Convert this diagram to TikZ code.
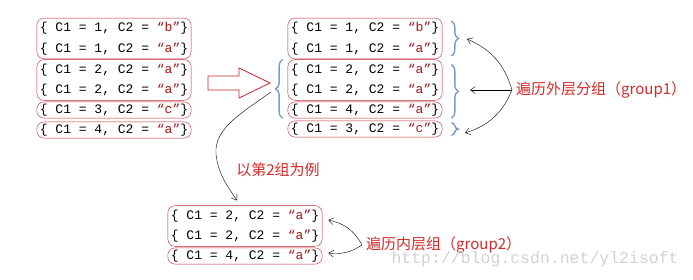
\documentclass[tikz,border=0pt]{standalone}
\usepackage{fontspec}
\setmonofont{Liberation Mono}
\newfontfamily\cjk{Noto Sans CJK SC}
\usetikzlibrary{arrows.meta,decorations.pathreplacing}
\definecolor{boxred}{RGB}{195,40,50}
\definecolor{strred}{RGB}{163,21,21}
\definecolor{lblred}{RGB}{215,40,40}
\definecolor{braceblue}{RGB}{120,155,200}
\newcommand{\strlit}[1]{\textcolor{strred}{“#1”}}
\newcommand{\rowtxt}[2]{\{ C1 = #1, C2 = \strlit{#2}\}}

\begin{document}
\begin{tikzpicture}[x=1pt,y=1pt,
    grp/.style={draw=boxred, rounded corners=7pt, align=left, inner xsep=3pt, inner ysep=2pt,
        font=\ttfamily\fontsize{13}{20.5}\selectfont},
    pair/.style={grp, inner ysep=4pt},
    brc/.style={draw=braceblue, line width=1.4pt, decorate, decoration={brace, amplitude=7pt}},
    lbl/.style={text=lblred, font=\cjk\fontsize{15}{17}\selectfont},
    >={Straight Barb[length=5pt,width=7pt]}]
    \useasboundingbox (0,0) rectangle (693,279);

    % Input rows
    \node[pair] (L1) at (114,240.5) {\rowtxt{1}{b}\\\rowtxt{1}{a}};
    \node[pair] (L2) at (114,199) {\rowtxt{2}{a}\\\rowtxt{2}{a}};
    \node[grp] (L3) at (114,169) {\rowtxt{3}{c}};
    \node[grp] (L4) at (114,149) {\rowtxt{4}{a}};

    % Hollow arrow
    \draw[boxred, line width=0.8pt, fill=white] (208,203) -- (239,203) -- (239,211) -- (270,196)
        -- (239,181) -- (239,189) -- (208,189) -- cycle;
    \coordinate (ta) at (271,187);

    % Grouped rows
    \node[pair] (R1) at (365,240.5) {\rowtxt{1}{b}\\\rowtxt{1}{a}};
    \node[pair] (R2) at (365,199) {\rowtxt{2}{a}\\\rowtxt{2}{a}};
    \node[grp] (R3) at (365,169) {\rowtxt{4}{a}};
    \node[grp] (R4) at (365,150) {\rowtxt{3}{c}};

    % Braces
    \draw[brc] ([xshift=-5pt]R3.south west) -- ([xshift=-5pt]R2.north west);
    \draw[brc] ([xshift=9pt,yshift=-3pt]R1.north east) -- ([xshift=9pt,yshift=3pt]R1.south east);
    \draw[brc] ([xshift=9pt,yshift=-5pt]R2.north east) -- ([xshift=9pt]R3.south east);
    \draw[brc] ([xshift=9pt,yshift=-2pt]R4.north east) -- ([xshift=9pt,yshift=2pt]R4.south east);
    \coordinate (t1) at (467,240);
    \coordinate (t2) at (470,189);
    \coordinate (t3) at (465,146);

    % Outer loop label
    \node[lbl, anchor=west, inner xsep=4pt] (g1) at (512,189) {遍历外层分组（group1）};
    \draw[->] (g1.west) to[bend right=25] (t1);
    \draw[->] (g1.west) -- (t2);
    \draw[->] (g1.west) to[bend left=25] (t3);

    % Example group
    \node[lbl] (ex) at (278,109) {以第2组为例};
    \node[pair] (B1) at (245,53) {\rowtxt{2}{a}\\\rowtxt{2}{a}};
    \node[grp] (B2) at (245,23) {\rowtxt{4}{a}};
    \draw[->] (ta) .. controls (240,165) and (214,150) .. (216,125)
        .. controls (218,105) and (228,92) .. ([xshift=-8pt,yshift=5pt]B1.north);

    % Inner loop label
    \node[lbl, anchor=west, inner xsep=4pt] (g2) at (362,34) {遍历内层组（group2）};
    \draw[->] (g2.west) to[bend right=25] ([xshift=6pt,yshift=6pt]B1.east);
    \draw[->] (g2.west) to[bend left=20] ([xshift=6pt,yshift=3pt]B2.east);

    % Watermark
    \node[anchor=west, text=gray!35, font=\ttfamily\fontsize{16.5}{18}\selectfont] (wm) at (388,20)
        {http://blog.csdn.net/yl2isoft};
\end{tikzpicture}
\end{document}
